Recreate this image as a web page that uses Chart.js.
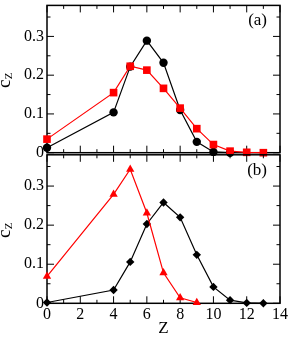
<!DOCTYPE html>
<html lang="en">
<head>
<meta charset="UTF-8">
<title>c_Z vs Z</title>
<script src="https://cdn.jsdelivr.net/npm/chart.js"></script>
<style>
  body { margin: 0; background: #fff; }
  #wrap { position: relative; width: 291px; height: 337px; }
  canvas { position: absolute; left: 0; }
</style>
</head>
<body>
<div id="wrap">
  <canvas id="chartA" width="291" height="165" style="top:0px"></canvas>
  <canvas id="chartB" width="291" height="187" style="top:150px"></canvas>
</div>
<script>
// panel (a)
const zA_black = [0, 4, 5, 6, 7, 8, 9, 10, 11];
const cA_black = [0.013, 0.104, 0.222, 0.289, 0.232, 0.110, 0.028, 0.002, 0.000];
const zA_red = [0, 4, 5, 6, 7, 8, 9, 10, 11, 12, 13];
const cA_red = [0.035, 0.155, 0.223, 0.213, 0.166, 0.115, 0.062, 0.021, 0.004, 0.001, 0.000];
// panel (b)
const zB_red = [0, 4, 5, 6, 7, 8, 9];
const cB_red = [0.069, 0.279, 0.343, 0.231, 0.078, 0.014, 0.002];
const zB_black = [0, 4, 5, 6, 7, 8, 9, 10, 11, 12, 13];
const cB_black = [0.002, 0.034, 0.106, 0.203, 0.258, 0.220, 0.124, 0.042, 0.008, 0.001, 0.000];

const xTicks = [0, 2, 4, 6, 8, 10, 12, 14];
const xTickLabels = ['0', '2', '4', '6', '8', '10', '12', '14'];
const yTicks = [0, 0.1, 0.2, 0.3];
const yTickLabels = ['0', '0.1', '0.2', '0.3'];

const SERIF = "'Liberation Serif', 'Times New Roman', serif";
Chart.defaults.font.family = SERIF;
Chart.defaults.color = '#000';

const pts = (xs, ys) => xs.map((x, i) => ({ x: x, y: ys[i] }));

// frame, inward ticks, panel label and c_Z title
const framePlugin = {
  id: 'frame',
  beforeDatasetsDraw(chart) {
    const { ctx, chartArea: a, scales: { x, y } } = chart;
    ctx.save();
    ctx.strokeStyle = '#000';
    ctx.lineWidth = 1;
    ctx.beginPath();
    for (let v = 0; v <= 14; v++) {
      const px = x.getPixelForValue(v);
      const len = v % 2 === 0 ? 7 : 3.5;
      ctx.moveTo(px, a.bottom); ctx.lineTo(px, a.bottom - len);
      ctx.moveTo(px, a.top); ctx.lineTo(px, a.top + len);
    }
    for (let k = 0; k <= 7; k++) {
      const py = y.getPixelForValue(k * 0.05);
      const len = k % 2 === 0 ? 7 : 3.5;
      ctx.moveTo(a.left, py); ctx.lineTo(a.left + len, py);
      ctx.moveTo(a.right, py); ctx.lineTo(a.right - len, py);
    }
    ctx.stroke();
    ctx.lineWidth = 1.5;
    ctx.strokeRect(a.left, a.top, a.right - a.left, a.bottom - a.top);
    ctx.restore();
  },
  afterDraw(chart, args, opts) {
    const { ctx, chartArea: a } = chart;
    ctx.save();
    ctx.fillStyle = '#000';
    ctx.font = '17px ' + SERIF;
    ctx.textAlign = 'right';
    ctx.textBaseline = 'alphabetic';
    ctx.fillText(opts.label, a.right - 13, a.top + 20);

    const yc = (a.top + a.bottom) / 2;
    ctx.translate(10, yc + 9);
    ctx.rotate(-Math.PI / 2);
    ctx.textAlign = 'left';
    ctx.font = '19px ' + SERIF;
    ctx.fillText('c', 0, 0);
    const w = ctx.measureText('c').width;
    ctx.font = '11px ' + SERIF;
    ctx.fillText('Z', w + 0.3, 1.5);
    ctx.restore();
  }
};

function yScale() {
  return {
    min: 0, max: 0.38,
    afterBuildTicks: s => { s.ticks = yTicks.map(v => ({ value: v })); },
    afterFit: s => { s.width = 47; s.paddingTop = 0; s.paddingBottom = 0; },
    grid: { display: false, drawTicks: false },
    border: { display: false },
    ticks: {
      padding: 3, autoSkip: false, font: { size: 16 }, color: '#000',
      callback: (v, i) => yTickLabels[i]
    }
  };
}

function line(data, color, style, radius) {
  return {
    data: data,
    borderColor: color,
    backgroundColor: color,
    borderWidth: 1.2,
    pointStyle: style,
    pointRadius: radius,
    pointHoverRadius: radius,
    pointBorderWidth: 0,
    pointBackgroundColor: color,
    tension: 0,
    clip: false
  };
}

new Chart(document.getElementById('chartA'), {
  type: 'line',
  data: {
    datasets: [
      line(pts(zA_red, cA_red), '#ff0000', 'rect', 5.4),
      line(pts(zA_black, cA_black), '#000000', 'circle', 4.2)
    ]
  },
  options: {
    responsive: false,
    animation: false,
    layout: { padding: { top: 3, right: 11, bottom: 12.3, left: 0 } },
    plugins: { legend: { display: false }, tooltip: { enabled: false }, frame: { label: '(a)' } },
    scales: {
      x: { type: 'linear', min: 0, max: 14, display: false },
      y: yScale()
    }
  },
  plugins: [framePlugin]
});

new Chart(document.getElementById('chartB'), {
  type: 'line',
  data: {
    datasets: [
      line(pts(zB_red, cB_red), '#ff0000', 'triangle', 4.8),
      line(pts(zB_black, cB_black), '#000000', 'rectRot', 4.2)
    ]
  },
  options: {
    responsive: false,
    animation: false,
    layout: { padding: { top: 2.7, right: 11, bottom: 0, left: 0 } },
    plugins: { legend: { display: false }, tooltip: { enabled: false }, frame: { label: '(b)' } },
    scales: {
      x: {
        type: 'linear', min: 0, max: 14,
        afterBuildTicks: s => { s.ticks = xTicks.map(v => ({ value: v })); },
        afterFit: s => { s.height = 33.7; s.paddingLeft = 0; s.paddingRight = 0; },
        grid: { display: false, drawTicks: false },
        border: { display: false },
        ticks: {
          padding: 2, autoSkip: false, maxRotation: 0, font: { size: 16 }, color: '#000',
          callback: (v, i) => xTickLabels[i]
        },
        title: { display: true, text: 'Z', font: { size: 17, lineHeight: 1 }, padding: { top: 0, bottom: 0 }, color: '#000' }
      },
      y: yScale()
    }
  },
  plugins: [framePlugin]
});
</script>
</body>
</html>
